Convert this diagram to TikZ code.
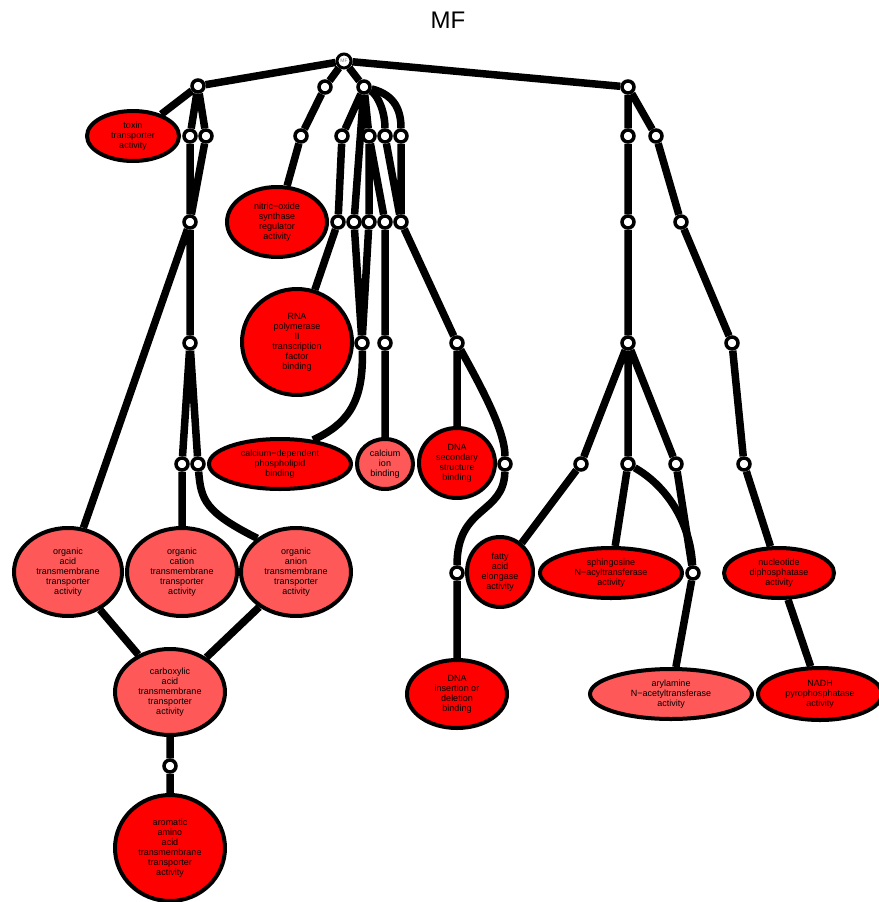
\documentclass[tikz,border=0pt]{standalone}
\usepackage{fontspec}
\setmainfont{Liberation Sans}
\usetikzlibrary{shapes.geometric,backgrounds}
\definecolor{sig}{RGB}{255,0,0}
\definecolor{lsig}{RGB}{255,88,88}
\begin{document}
\begin{tikzpicture}[x=1pt,y=-1pt,
  term/.style={ellipse,draw=black,line width=4pt,inner sep=0pt,fill=sig,
    font=\fontsize{9}{10}\selectfont,align=center,text=black},
  lterm/.style={term,fill=lsig},
  dum/.style={circle,draw=black,fill=white,line width=3.5pt,minimum size=12pt,inner sep=0pt},
  rootnode/.style={circle,draw=black,fill=white,line width=3pt,minimum size=14pt,inner sep=0pt,
    font=\fontsize{5}{5}\selectfont,text=gray},
  edge/.style={draw=black,line width=7.5pt},
  title/.style={font=\fontsize{24}{28}\selectfont}]
\useasboundingbox (0,0) rectangle (878,902);
\node[title] (ttl) at (448,20) {MF};
\node[rootnode] (root) at (344,61) {MF};
% level 1
\node[dum] (a1) at (198,86) {};
\node[dum] (a2) at (325,87) {};
\node[dum] (a3) at (364,87) {};
\node[dum] (a4) at (628,87) {};
% left group
\node[term,minimum width=92pt,minimum height=50pt] (toxin) at (133,136) {toxin\\transporter\\activity};
\node[dum] (b1) at (190,136) {};
\node[dum] (b2) at (206,136) {};
\node[dum] (c1) at (190,222) {};
\node[dum] (d1) at (190,343) {};
\node[dum] (e1) at (182,464) {};
\node[dum] (e2) at (198,464) {};
\node[lterm,minimum width=108pt,minimum height=88pt] (oacid) at (68,572) {organic\\acid\\transmembrane\\transporter\\activity};
\node[lterm,minimum width=110pt,minimum height=88pt] (ocat) at (182,572) {organic\\cation\\transmembrane\\transporter\\activity};
\node[lterm,minimum width=110pt,minimum height=88pt] (oan) at (296,572) {organic\\anion\\transmembrane\\transporter\\activity};
\node[lterm,minimum width=110pt,minimum height=86pt] (carb) at (170,692) {carboxylic\\acid\\transmembrane\\transporter\\activity};
\node[dum] (f1) at (170,766) {};
\node[term,minimum width=110pt,minimum height=106pt] (arom) at (170,848) {aromatic\\amino\\acid\\transmembrane\\transporter\\activity};
% middle group
\node[dum] (b3) at (301,136) {};
\node[term,minimum width=100pt,minimum height=70pt] (nitric) at (277,222) {nitric−oxide\\synthase\\regulator\\activity};
\node[dum] (b4) at (342,136) {};
\node[dum] (b5) at (369,136) {};
\node[dum] (b6) at (385,136) {};
\node[dum] (b7) at (401,136) {};
\node[dum] (c4) at (338,222) {};
\node[dum] (c5) at (354,222) {};
\node[dum] (c6) at (369,222) {};
\node[dum] (c7) at (385,222) {};
\node[dum] (c8) at (401,222) {};
\node[term,minimum width=110pt,minimum height=106pt] (rna) at (297,342) {RNA\\polymerase\\II\\transcription\\factor\\binding};
\node[dum] (d5) at (362,343) {};
\node[dum] (d7) at (385,343) {};
\node[dum] (d8) at (457,343) {};
\node[term,minimum width=142pt,minimum height=50pt] (cdep) at (280,464) {calcium−dependent\\phospholipid\\binding};
\node[lterm,minimum width=56pt,minimum height=50pt] (cion) at (385,464) {calcium\\ion\\binding};
\node[term,minimum width=76pt,minimum height=70pt] (dsec) at (457,463) {DNA\\secondary\\structure\\binding};
\node[dum] (e8) at (505,464) {};
\node[dum] (f8) at (457,573) {};
\node[term,minimum width=100pt,minimum height=68pt] (dins) at (457,694) {DNA\\insertion or\\deletion\\binding};
% right group
\node[dum] (rb1) at (628,136) {};
\node[dum] (rb2) at (656,136) {};
\node[dum] (rc1) at (628,222) {};
\node[dum] (rc2) at (681,222) {};
\node[dum] (rd1) at (628,343) {};
\node[dum] (rd2) at (732,343) {};
\node[dum] (re1) at (581,464) {};
\node[dum] (re2) at (628,464) {};
\node[dum] (re3) at (676,464) {};
\node[dum] (re4) at (744,464) {};
\node[term,minimum width=66pt,minimum height=70pt] (fatty) at (500,572) {fatty\\acid\\elongase\\activity};
\node[term,minimum width=142pt,minimum height=50pt] (sphing) at (611,573) {sphingosine\\N−acyltransferase\\activity};
\node[dum] (rf3) at (693,573) {};
\node[lterm,minimum width=162pt,minimum height=50pt] (aryl) at (671,694) {arylamine\\N−acetyltransferase\\activity};
\node[term,minimum width=110pt,minimum height=50pt] (nucl) at (779,573) {nucleotide\\diphosphatase\\activity};
\node[term,minimum width=124pt,minimum height=52pt] (nadh) at (820,694) {NADH\\pyrophosphatase\\activity};
\begin{scope}[on background layer]
\fill[white] (0,0) rectangle (878,902);
\path[edge] (root) -- (a1) (root) -- (a2) (root) -- (a3) (root) -- (a4);
% left
\path[edge] (a1) -- (toxin) (a1) -- (b1) (a1) -- (b2) (b1) -- (c1) (b2) -- (c1)
  (c1) -- (oacid) (c1) -- (d1) (d1) -- (e1) (d1) -- (e2) (e1) -- (ocat)
  (oacid) -- (carb) (oan) -- (carb) (carb) -- (f1) (f1) -- (arom);
\path[edge] (e2) .. controls (201,500) and (205,512) .. (oan.139);
% middle
\path[edge] (a2) -- (b3) (b3) -- (nitric)
  (a3) -- (b4) (b4) -- (c4) (c4) -- (rna) (a3) -- (c5) (a3) -- (b5)
  (b5) -- (c6) (b5) -- (c7) (b6) -- (c8) (b7) -- (c8)
  (c5) -- (d5) (c6) -- (d5) (c7) -- (d7) (d7) -- (cion)
  (c8) -- (d8) (d8) -- (dsec) (f8) -- (dins);
\path[edge] (a3) .. controls (378,95) and (385,112) .. (b6);
\path[edge] (a3) .. controls (396,95) and (401,112) .. (b7);
\path[edge] (d5) .. controls (364,405) and (345,425) .. (cdep.36);
\path[edge] (d8) .. controls (480,385) and (505,430) .. (e8);
\path[edge] (e8) .. controls (504,515) and (457,505) .. (f8);
% right
\path[edge] (a4) -- (rb1) (rb1) -- (rc1) (rc1) -- (rd1)
  (a4) -- (rb2) (rb2) -- (rc2) (rc2) -- (rd2) (rd2) -- (re4) (re4) -- (nucl) (nucl) -- (nadh)
  (rd1) -- (re1) (re1) -- (fatty) (rd1) -- (re2) (re2) -- (sphing)
  (rd1) -- (re3) (re3) -- (rf3) (rf3) -- (aryl);
\path[edge] (re2) .. controls (665,485) and (690,520) .. (rf3);
\end{scope}
\end{tikzpicture}
\end{document}
